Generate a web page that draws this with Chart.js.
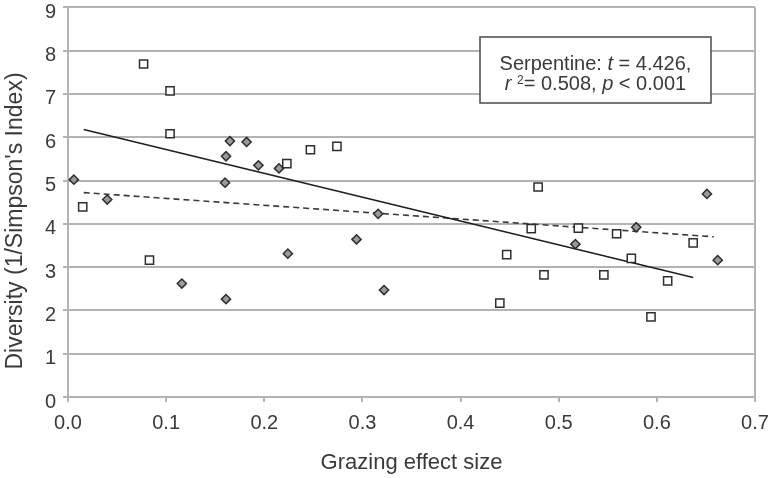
<!DOCTYPE html>
<html>
<head>
<meta charset="utf-8">
<script src="https://cdn.jsdelivr.net/npm/chart.js@4.4.1/dist/chart.umd.min.js"></script>
<style>
  html, body { margin: 0; padding: 0; background: #fff; }
</style>
</head>
<body>
<canvas id="myChart" width="773" height="478"></canvas>
<script>
// serpentine sites (open squares)
const squareX = [0.015, 0.077, 0.083, 0.104, 0.104, 0.223, 0.247, 0.274, 0.440, 0.447, 0.472, 0.479, 0.485, 0.520, 0.546, 0.559, 0.574, 0.594, 0.611, 0.637];
const squareY = [4.39, 7.69, 3.16, 7.07, 6.08, 5.39, 5.71, 5.79, 2.17, 3.29, 3.89, 4.85, 2.82, 3.90, 2.82, 3.77, 3.20, 1.85, 2.68, 3.56];

// other sites (grey diamonds)
const diamondX = [0.006, 0.040, 0.116, 0.160, 0.161, 0.161, 0.165, 0.182, 0.194, 0.215, 0.224, 0.294, 0.316, 0.322, 0.517, 0.579, 0.651, 0.662];
const diamondY = [5.02, 4.56, 2.62, 4.95, 5.56, 2.26, 5.91, 5.89, 5.35, 5.28, 3.31, 3.64, 4.23, 2.47, 3.53, 3.92, 4.69, 3.16];

// fitted lines (end points)
const solidFitX = [0.016, 0.637];
const solidFitY = [6.18, 2.76];
const dashedFitX = [0.016, 0.658];
const dashedFitY = [4.72, 3.70];

// ticks
const xTicks = [0, 0.1, 0.2, 0.3, 0.4, 0.5, 0.6, 0.7];
const yTicks = [0, 1, 2, 3, 4, 5, 6, 7, 8, 9];

// labels
const xTitle = "Grazing effect size";
const yTitle = "Diversity (1/Simpson's Index)";
const statLines = [
  [{ t: "Serpentine: " }, { t: "t", i: true }, { t: " = 4.426," }],
  [{ t: "r", i: true }, { t: " " }, { t: "2", sup: true }, { t: "= 0.508, " }, { t: "p", i: true }, { t: " < 0.001" }],
];

const toPoints = (xs, ys) => xs.map((x, k) => ({ x: x, y: ys[k] }));

const FONT = "'Liberation Sans', Arial, sans-serif";
const TEXT = "#3a3a3a";
const GRID = "#b3b3b3";

// y axis title + stats box
const extrasPlugin = {
  id: "extras",
  afterDraw(chart) {
    const c = chart.ctx;
    const area = chart.chartArea;

    // y title
    c.save();
    c.translate(16, 221);
    c.rotate(-Math.PI / 2);
    c.font = "23px " + FONT;
    c.fillStyle = TEXT;
    c.textAlign = "center";
    c.textBaseline = "middle";
    c.fillText(yTitle, 0, 0);
    c.restore();

    // stats box
    const bx = area.left + 412, by = 37, bw = 231, bh = 66;
    c.save();
    c.fillStyle = "#fff";
    c.fillRect(bx, by, bw, bh);
    c.strokeStyle = "#4a4a4a";
    c.lineWidth = 1.5;
    c.strokeRect(bx, by, bw, bh);
    c.fillStyle = TEXT;
    c.textBaseline = "alphabetic";
    const fontOf = (p) => p.sup ? "12px " + FONT : (p.i ? "italic 20px " : "20px ") + FONT;
    const baselines = [70, 90];
    statLines.forEach((parts, li) => {
      let w = 0;
      parts.forEach((p) => { c.font = fontOf(p); w += c.measureText(p.t).width; });
      let x = bx + bw / 2 - w / 2;
      parts.forEach((p) => {
        c.font = fontOf(p);
        c.fillText(p.t, x, baselines[li] - (p.sup ? 6 : 0));
        x += c.measureText(p.t).width;
      });
    });
    c.restore();
  },
};

new Chart(document.getElementById("myChart"), {
  type: "scatter",
  data: {
    datasets: [
      {
        label: "Serpentine",
        data: toPoints(squareX, squareY),
        pointStyle: "rect",
        pointRadius: 5.8,
        pointBackgroundColor: "#fff",
        pointBorderColor: "#2e2e2e",
        pointBorderWidth: 1.5,
        order: 0,
      },
      {
        label: "Other",
        data: toPoints(diamondX, diamondY),
        pointStyle: "rectRot",
        pointRadius: 4.6,
        pointBackgroundColor: "#9a9a9a",
        pointBorderColor: "#2e2e2e",
        pointBorderWidth: 1.5,
        order: 0,
      },
      {
        type: "line",
        label: "Serpentine fit",
        data: toPoints(solidFitX, solidFitY),
        borderColor: "#1e1e1e",
        borderWidth: 1.6,
        pointRadius: 0,
        fill: false,
        order: 1,
      },
      {
        type: "line",
        label: "Other fit",
        data: toPoints(dashedFitX, dashedFitY),
        borderColor: "#3a3a3a",
        borderWidth: 1.6,
        borderDash: [6, 4],
        pointRadius: 0,
        fill: false,
        order: 1,
      },
    ],
  },
  options: {
    responsive: false,
    animation: false,
    layout: { padding: { top: 7, right: 18, left: 0, bottom: 0 } },
    plugins: {
      legend: { display: false },
      tooltip: { enabled: false },
    },
    scales: {
      x: {
        type: "linear",
        min: 0,
        max: 0.7,
        afterBuildTicks: (s) => { s.ticks = xTicks.map((v) => ({ value: v })); },
        afterFit: (s) => { s.height = 81; s.paddingLeft = 0; s.paddingRight = 0; },
        ticks: {
          callback: (v) => v.toFixed(1),
          font: { family: FONT, size: 20 },
          color: TEXT,
          padding: 9,
          maxRotation: 0,
        },
        grid: {
          color: (ctx) => (ctx.index === xTicks.length - 1 ? GRID : "transparent"),
          tickColor: GRID,
          tickLength: 5,
          lineWidth: 2,
        },
        border: { color: GRID, width: 2 },
        title: {
          display: true,
          text: xTitle,
          font: { family: FONT, size: 22 },
          color: TEXT,
          padding: { top: 0, bottom: 2 },
        },
      },
      y: {
        type: "linear",
        min: 0,
        max: 9,
        afterBuildTicks: (s) => { s.ticks = yTicks.map((v) => ({ value: v })); },
        afterFit: (s) => { s.width = 68; s.paddingTop = 0; s.paddingBottom = 0; },
        ticks: {
          font: { family: FONT, size: 20 },
          color: TEXT,
          padding: 7,
          labelOffset: 5,
        },
        grid: {
          color: GRID,
          tickColor: GRID,
          tickLength: 5,
          lineWidth: 2,
        },
        border: { color: GRID, width: 2 },
      },
    },
  },
  plugins: [extrasPlugin],
});
</script>
</body>
</html>
